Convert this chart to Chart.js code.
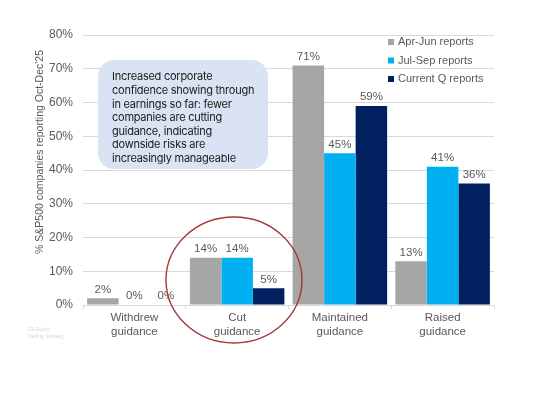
<!DOCTYPE html>
<html>
<head>
<meta charset="utf-8">
<script src="https://cdn.jsdelivr.net/npm/chart.js@4.4.1/dist/chart.umd.min.js"></script>
<style>
  html, body { margin: 0; padding: 0; background: #fff; }
  #wrap { width: 549px; height: 397px; position: relative; }
</style>
</head>
<body>
<div id="wrap"><canvas id="chart"></canvas></div>
<script>
const categories = [['Withdrew', 'guidance'], ['Cut', 'guidance'], ['Maintained', 'guidance'], ['Raised', 'guidance']];
const seriesNames = ['Apr-Jun reports', 'Jul-Sep reports', 'Current Q reports'];
const aprJun = [2, 14, 71, 13];
const julSep = [0, 14, 45, 41];
const currentQ = [0, 5, 59, 36];
const colors = ['#a6a6a6', '#00b0f0', '#002060'];
const yMax = 80;
const yStep = 10;
const yTitle = "% S&P500 companies reporting Oct-Dec'25";
const note = [
  'Increased corporate',
  'confidence showing through',
  'in earnings so far: fewer',
  'companies are cutting',
  'guidance, indicating',
  'downside risks are',
  'increasingly manageable'
];

const arial = '"Liberation Sans", Arial, sans-serif';
const grey = '#595959';

// value labels, legend, note box, circle
const extras = {
  id: 'extras',
  afterDatasetsDraw(chart) {
    const ctx = chart.ctx;
    ctx.save();
    ctx.font = '11.5px ' + arial;
    ctx.fillStyle = grey;
    ctx.textAlign = 'center';
    ctx.textBaseline = 'bottom';
    chart.data.datasets.forEach((ds, i) => {
      chart.getDatasetMeta(i).data.forEach((bar, j) => {
        ctx.fillText(ds.data[j] + '%', bar.x, bar.y - 3);
      });
    });

    // legend
    ctx.font = '11px ' + arial;
    ctx.textAlign = 'left';
    ctx.textBaseline = 'middle';
    seriesNames.forEach((name, i) => {
      const y = 42 + i * 18.5;
      ctx.fillStyle = colors[i];
      ctx.fillRect(388, y - 3, 6, 6);
      ctx.fillStyle = grey;
      ctx.fillText(name, 398, y);
    });

    // note box
    ctx.fillStyle = '#dae3f3';
    ctx.beginPath();
    ctx.roundRect(98, 60, 170, 109, 16);
    ctx.fill();
    ctx.fillStyle = '#1a1a1a';
    ctx.font = '11px Inter, "Noto Sans", sans-serif';
    ctx.letterSpacing = '-0.25px';
    note.forEach((line, i) => {
      ctx.fillText(line, 112, 77 + i * 13.6);
    });
    ctx.letterSpacing = '0px';

    // y title
    ctx.save();
    ctx.translate(40, 152);
    ctx.rotate(-Math.PI / 2);
    ctx.textAlign = 'center';
    ctx.fillStyle = grey;
    ctx.font = '10.5px ' + arial;
    ctx.fillText(yTitle, 0, 0);
    ctx.restore();

    // circle around "Cut"
    ctx.strokeStyle = '#a33a3a';
    ctx.lineWidth = 1.4;
    ctx.beginPath();
    ctx.ellipse(234, 280, 68, 63, 0, 0, Math.PI * 2);
    ctx.stroke();

    // faint source
    ctx.fillStyle = '#d6d6d6';
    ctx.font = '5px ' + arial;
    ctx.fillText('GS Equity', 27, 330);
    ctx.fillText('Trading Strategy', 27, 337);
    ctx.restore();
  }
};

new Chart(document.getElementById('chart'), {
  type: 'bar',
  data: {
    labels: categories,
    datasets: [
      { label: seriesNames[0], data: aprJun, backgroundColor: colors[0] },
      { label: seriesNames[1], data: julSep, backgroundColor: colors[1] },
      { label: seriesNames[2], data: currentQ, backgroundColor: colors[2] }
    ]
  },
  options: {
    responsive: true,
    maintainAspectRatio: false,
    animation: false,
    layout: { padding: { left: 0, right: 55, top: 35, bottom: 0 } },
    datasets: { bar: { categoryPercentage: 0.92, barPercentage: 1 } },
    plugins: { legend: { display: false }, tooltip: { enabled: false } },
    scales: {
      x: {
        afterFit: s => { s.height = 92; },
        grid: { offset: true, drawOnChartArea: false, tickLength: 4, color: '#d9d9d9' },
        border: { color: '#d9d9d9' },
        ticks: { font: { family: arial, size: 11.5 }, color: grey, padding: 2, maxRotation: 0 }
      },
      y: {
        min: 0,
        max: yMax,
        afterFit: s => { s.width = 83; },
        grid: { color: '#d9d9d9', drawTicks: false },
        border: { display: false },
        ticks: {
          stepSize: yStep,
          padding: 10,
          font: { family: arial, size: 12 },
          color: grey,
          callback: v => v + '%'
        }
      }
    }
  },
  plugins: [extras]
});
</script>
</body>
</html>
